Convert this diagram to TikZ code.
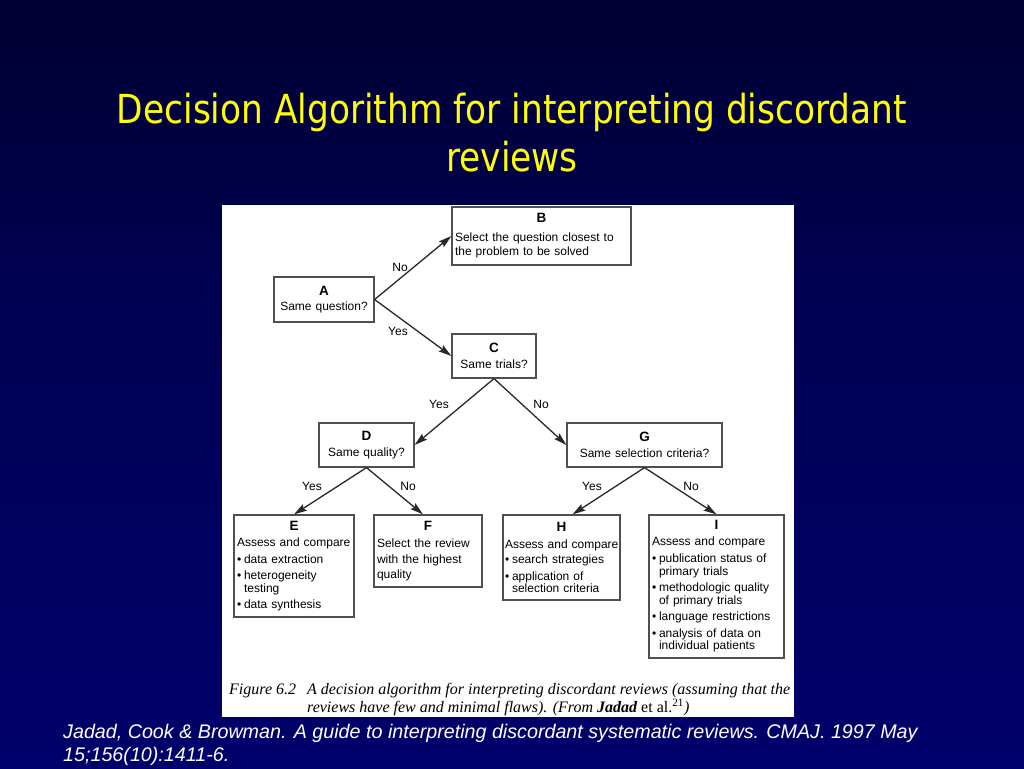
\documentclass[tikz,border=0pt]{standalone}
\usepackage{fontspec}
\setmainfont{Liberation Sans}
\newfontfamily\titlefont[FakeStretch=0.86]{DejaVu Sans}
\newfontfamily\citefont{Liberation Sans}
\newfontfamily\capfont{Liberation Serif}
\usetikzlibrary{arrows.meta}
\hyphenpenalty=10000
\exhyphenpenalty=10000

\definecolor{slidetop}{RGB}{0,0,8}
\definecolor{slidemid}{RGB}{0,0,80}
\definecolor{slidebot}{RGB}{0,0,128}
\definecolor{slidetitle}{RGB}{255,255,0}
\definecolor{boxline}{RGB}{80,80,80}
\definecolor{arrline}{RGB}{40,40,40}

% Hintergrund der Folie
\pgfdeclareverticalshading{slidebg}{100bp}{color(0bp)=(slidebot); color(57bp)=(slidemid); color(100bp)=(slidetop)}

% Kopfbuchstabe und Aufzaehlungspunkte in den Kaesten
\newcommand{\hd}[1]{\makebox[\hsize]{\fontsize{13.5}{13}\selectfont\bfseries #1}}
\newcommand{\bul}{\makebox[7pt][l]{\textbullet}}
\newcommand{\cnt}{\hspace*{7pt}}

\begin{document}
\begin{tikzpicture}[x=1pt,y=-1pt,
  % Gestaltung der Kaesten
  box/.style={
    rectangle,
    draw=boxline,
    fill=white,
    line width=1.2pt,
    inner xsep=3pt,
    inner ysep=2pt,
    font=\fontsize{12}{12.5}\selectfont
  },
  ask/.style={box, align=center},
  act/.style={box, align=left},
  % Gestaltung der Pfeile
  arr/.style={
    -{Stealth[length=13pt,width=7.5pt,inset=2pt]},
    draw=arrline,
    line width=1.3pt
  },
  lbl/.style={font=\fontsize{12}{12}\selectfont, inner sep=1pt}
  ]

  % Folie und Bildfeld
  \shade[shading=slidebg] (0,0) rectangle (1024,768);
  \fill[white] (222,205) rectangle (794,717);

  \node[font=\titlefont\fontsize{40}{48}\selectfont, text=slidetitle, align=center] (title) at (512,133)
    {Decision Algorithm for interpreting discordant\\reviews};

  % Entscheidungskaesten
  \node[ask, text width=94pt, minimum height=45pt] (A) at (324,299.5) {\hd{A}\\[3pt]Same question?};
  \node[act, text width=173pt, minimum height=58pt] (B) at (541.5,236) {\hd{B}\\[6pt]Select the question closest to\\[2pt]the problem to be solved};
  \node[ask, text width=78pt, minimum height=44pt] (C) at (494,356) {\hd{C}\\[3pt]Same trials?};
  \node[ask, text width=89pt, minimum height=44pt] (D) at (366.5,445) {\hd{D}\\[3pt]Same quality?};
  \node[ask, text width=149pt, minimum height=44pt] (G) at (644.5,445) {\hd{G}\\[3pt]Same selection criteria?};

  % Ergebniskaesten
  \node[act, text width=114pt, minimum height=102pt] (E) at (294,566)
    {\hd{E}\\[4pt]Assess and compare\\[4pt]\bul data extraction\\[4pt]\bul heterogeneity\\\cnt testing\\[4pt]\bul data synthesis};
  \node[act, text width=102pt, minimum height=72pt] (F) at (428,551)
    {\hd{F}\\[5pt]Select the review\\[3pt]with the highest\\[3pt]quality};
  \node[act, inner xsep=2pt, text width=113pt, minimum height=85pt] (H) at (561.5,557.5)
    {\hd{H}\\[4pt]\mbox{Assess and compare}\\[3pt]\bul search strategies\\[4pt]\bul application of\\\cnt selection criteria};
  \node[act, text width=129pt, minimum height=143pt] (I) at (716.5,586.5)
    {\hd{I}\\[3pt]Assess and compare\\[5pt]\bul publication status of\\\cnt primary trials\\[4pt]\bul methodologic quality\\\cnt of primary trials\\[4pt]\bul language restrictions\\[4pt]\bul analysis of data on\\\cnt individual patients};

  % Verbindungen
  \draw[arr] (A.east) -- (B.west);
  \draw[arr] (A.east) -- (C.west);
  \draw[arr] (C.south) -- (D.east);
  \draw[arr] (C.south) -- (G.west);
  \draw[arr] (D.south) -- (E.north);
  \draw[arr] (D.south) -- ([xshift=-5pt]F.north);
  \draw[arr] (G.south) -- ([xshift=11pt]H.north);
  \draw[arr] (G.south) -- (I.north);

  % Beschriftungen der Pfeile
  \node[lbl] (noA) at (400,267) {No};
  \node[lbl] (yesA) at (398,331) {Yes};
  \node[lbl] (yesC) at (439,404) {Yes};
  \node[lbl] (noC) at (541,404) {No};
  \node[lbl] (yesD) at (312,486) {Yes};
  \node[lbl] (noD) at (408,486) {No};
  \node[lbl] (yesG) at (592,486) {Yes};
  \node[lbl] (noG) at (691,486) {No};

  % Bildunterschrift und Quelle
  \node[anchor=north west, inner sep=0pt, font=\capfont\itshape\fontsize{16}{15}\selectfont] (caption) at (229,683)
    {\begin{tabular}{@{}l@{\hspace{11pt}}l@{}}
      Figure 6.2 & A decision algorithm for interpreting discordant reviews (assuming that the\\
       & reviews have few and minimal flaws). (From \textbf{Jadad} \textup{et al.}\textsuperscript{\textup{21}})
    \end{tabular}};
  \node[anchor=north west, inner sep=0pt, align=left, text=white, font=\citefont\itshape\fontsize{19.7}{23}\selectfont] (cite) at (63,724)
    {Jadad, Cook \& Browman. A guide to interpreting discordant systematic reviews. CMAJ. 1997 May\\15;156(10):1411-6.};
\end{tikzpicture}
\end{document}
